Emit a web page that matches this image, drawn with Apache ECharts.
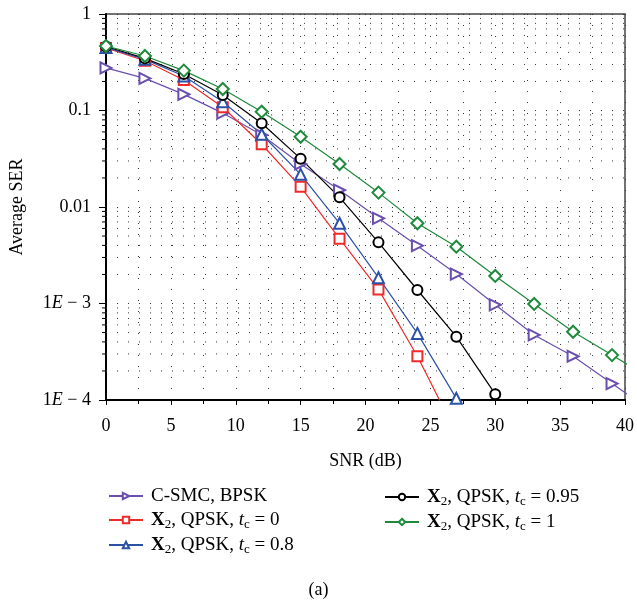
<!DOCTYPE html>
<html><head><meta charset="utf-8">
<script src="https://cdn.jsdelivr.net/npm/echarts@6/dist/echarts.min.js"></script>
<style>html,body{margin:0;padding:0;background:#fff}#c{width:637px;height:605px}</style>
</head><body><div id="c"></div>
<script>
const snr = [0,3,6,9,12,15,18,21,24,27,30,33,36,39,42];
const cSmcBpsk = [0.276,0.215,0.147,0.094,0.0557,0.0279,0.015,0.00764,0.00397,0.00202,0.00097,0.000472,0.000284,0.000148,0.000078];
const qpsk0    = [0.444,0.328,0.207,0.108,0.0447,0.0162,0.0047,0.0014,0.000284,0.000045];
const qpsk08   = [0.45,0.339,0.228,0.123,0.0567,0.0218,0.00678,0.00185,0.00049,0.000104];
const qpsk095  = [0.46,0.347,0.239,0.145,0.0737,0.0317,0.0126,0.0043,0.00138,0.000453,0.000115];
const qpsk1    = [0.466,0.367,0.259,0.167,0.0972,0.0535,0.0279,0.0141,0.00678,0.00388,0.00193,0.00099,0.00051,0.000292,0.000165];
const xTicks = [0,5,10,15,20,25,30,35,40];
const yTickLabels = {1:'1', 0.1:'0.1', 0.01:'0.01', 0.001:'1{e|E} − 3', 0.0001:'1{e|E} − 4'};
const seriesNames = ['C-SMC, BPSK','X2 t0','X2 t08','X2 t095','X2 t1'];
const legendLabels = {
  'C-SMC, BPSK':'C-SMC, BPSK',
  'X2 t0':'{b|X}{s|2}, QPSK, {i|t}{s|c} = 0',
  'X2 t08':'{b|X}{s|2}, QPSK, {i|t}{s|c} = 0.8',
  'X2 t095':'{b|X}{s|2}, QPSK, {i|t}{s|c} = 0.95',
  'X2 t1':'{b|X}{s|2}, QPSK, {i|t}{s|c} = 1'
};
const minorVals = [];
[1e-4,1e-3,1e-2,1e-1].forEach(d=>{for(let k=2;k<=9;k++) minorVals.push(+(d*k).toPrecision(3));});

const FONT = '"Liberation Serif","DejaVu Serif",serif';
const pair = (ys)=>ys.map((v,i)=>[snr[i],v]);
const LF = 19;
const rich = {
  b:{fontWeight:'bold',fontSize:LF,fontFamily:FONT,color:'#000',lineHeight:20},
  s:{fontSize:13,fontFamily:FONT,color:'#000',padding:[9,0,0,0],lineHeight:20},
  i:{fontStyle:'italic',fontSize:LF,fontFamily:FONT,color:'#000',lineHeight:20}
};
function mk(name,data,color,symbol,size,rot){
  return {name,type:'line',data:pair(data),symbol,symbolSize:size,symbolRotate:rot||0,
    showAllSymbol:true,clip:true,
    lineStyle:{color,width:1.2},itemStyle:{color:color,borderColor:color,borderWidth:1.3},
    emphasis:{disabled:true},z:5};
}
const legendCommon = {orient:'vertical',itemWidth:34,itemHeight:8,itemGap:3,
  formatter:n=>legendLabels[n],
  textStyle:{fontFamily:FONT,fontSize:LF,color:'#000',lineHeight:20,padding:[0,0,0,3],rich}};
const chart = echarts.init(document.getElementById('c'),null,{renderer:'canvas'});
chart.setOption({
  animation:false,
  backgroundColor:'#fff',
  textStyle:{fontFamily:FONT},
  grid:{left:106,right:9,top:14,bottom:205,show:true,borderColor:'#444',borderWidth:1.5,backgroundColor:'transparent'},
  xAxis:{type:'value',min:0,max:40,interval:5,
    name:'SNR (dB)',nameLocation:'middle',nameGap:52,
    nameTextStyle:{fontFamily:FONT,fontSize:18,color:'#000',verticalAlign:'top'},
    axisLine:{lineStyle:{color:'#000',width:2}},
    axisTick:{inside:false,length:5,lineStyle:{color:'#000'}},
    minorTick:{show:true,splitNumber:2,length:4,lineStyle:{color:'#000'}},
    axisLabel:{fontFamily:FONT,fontSize:18,color:'#000',margin:17,
      formatter:v=>xTicks.includes(v)?String(v):''},
    splitLine:{show:true,lineStyle:{color:'#333',type:[1,10],width:1}},
    minorSplitLine:{show:true,lineStyle:{color:'#333',type:[1,10],width:1}}},
  yAxis:{type:'log',logBase:10,min:1e-4,max:1,
    name:'Average SER',nameLocation:'middle',nameGap:80,
    nameTextStyle:{fontFamily:FONT,fontSize:18,color:'#000'},
    axisLine:{show:true,lineStyle:{color:'#000',width:2}},
    axisTick:{show:true,length:7,lineStyle:{color:'#000'}},
    axisLabel:{fontFamily:FONT,fontSize:18,color:'#000',margin:15,
      formatter:v=>{for(const k in yTickLabels){if(Math.abs(Math.log10(v)-Math.log10(+k))<1e-6)return yTickLabels[k];}return '';},
      rich:{e:{fontStyle:'italic',fontFamily:FONT,fontSize:18,color:'#000'}}},
    splitLine:{show:true,lineStyle:{color:'#333',type:[1,10],width:1}}},
  legend:[
    Object.assign({left:103,top:481,data:seriesNames.slice(0,3)},legendCommon),
    Object.assign({left:379,top:481,data:seriesNames.slice(3)},legendCommon)
  ],
  graphic:[{type:'text',left:'center',top:581,style:{text:'(a)',fontFamily:FONT,fontSize:18,fill:'#000'}}],
  series:[
    {type:'custom',name:'minorgrid',silent:true,clip:false,z:1,
     data:minorVals.map(v=>[0,v]),
     renderItem:(params,api)=>{
       const v=api.value(1);
       const p0=api.coord([0,v]), p1=api.coord([40,v]);
       return {type:'group',children:[
         {type:'line',shape:{x1:p0[0],y1:p0[1],x2:p1[0],y2:p1[1]},style:{stroke:'#333',lineWidth:1,lineDash:[1,10]}},
         {type:'line',shape:{x1:p0[0]-4,y1:p0[1],x2:p0[0],y2:p0[1]},style:{stroke:'#000',lineWidth:1}}
       ]};
     }},
    mk('C-SMC, BPSK',cSmcBpsk,'#6a4fae','emptyTriangle',11,-90),
    mk('X2 t0',qpsk0,'#ee2b2b','emptyRect',10),
    mk('X2 t08',qpsk08,'#2c52a8','emptyTriangle',11),
    mk('X2 t095',qpsk095,'#000000','emptyCircle',10),
    mk('X2 t1',qpsk1,'#1e8a3c','emptyDiamond',12)
  ]
});
</script></body></html>
